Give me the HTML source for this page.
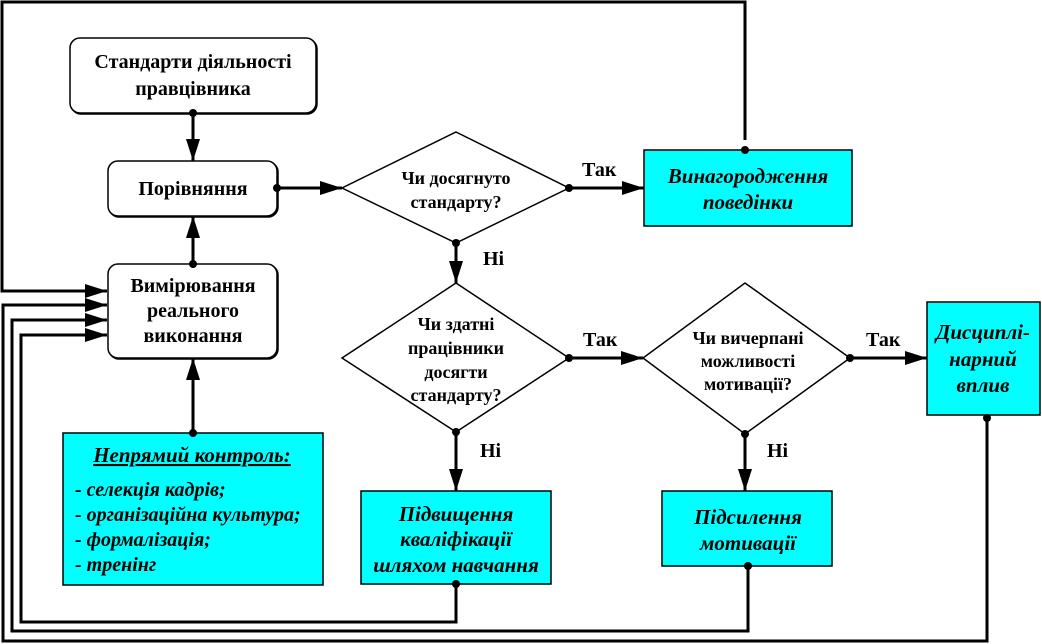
<!DOCTYPE html>
<html><head><meta charset="utf-8"><style>
html,body{margin:0;padding:0;background:#fff;}
svg{display:block;}
</style></head><body>
<svg width="1042" height="644" viewBox="0 0 1042 644" xmlns="http://www.w3.org/2000/svg" style="font-family:'Liberation Serif',serif" font-weight="bold">
<defs>
<marker id="b" markerWidth="22" markerHeight="14" refX="22" refY="7" orient="auto" markerUnits="userSpaceOnUse" viewBox="0 0 22 14"><path d="M0,0 L22,7 L0,14 z" fill="#000"/></marker>
</defs>
<g fill="none" stroke="#000" stroke-width="3">
<polyline points="745,140 745,2 2,2 2,291 107,291" marker-end="url(#b)"/>
<polyline points="987,418 987,641 3,641 3,305 107,305" marker-end="url(#b)"/>
<polyline points="748,566 748,631 12,631 12,320 107,320" marker-end="url(#b)"/>
<polyline points="456,584 456,622 21,622 21,335 107,335" marker-end="url(#b)"/>
<line x1="193" y1="113" x2="193" y2="161" marker-end="url(#b)"/>
<line x1="193" y1="264" x2="193" y2="216" marker-end="url(#b)"/>
<line x1="193" y1="433" x2="193" y2="358" marker-end="url(#b)"/>
<line x1="277" y1="188" x2="342" y2="188" marker-end="url(#b)"/>
<line x1="569" y1="188" x2="644" y2="188" marker-end="url(#b)"/>
<line x1="456" y1="243" x2="456" y2="283" marker-end="url(#b)"/>
<line x1="569" y1="358" x2="643" y2="358" marker-end="url(#b)"/>
<line x1="850" y1="358" x2="927" y2="358" marker-end="url(#b)"/>
<line x1="456" y1="432" x2="456" y2="491" marker-end="url(#b)"/>
<line x1="745" y1="434" x2="745" y2="491" marker-end="url(#b)"/>
</g>
<g stroke="#000" stroke-width="1.5">
<rect x="71" y="39" width="246" height="75" rx="10" fill="#444"/>
<rect x="70" y="38" width="246" height="75" rx="10" fill="#fff"/>
<rect x="109" y="162" width="169" height="55" rx="10" fill="#444"/>
<rect x="108" y="161" width="169" height="55" rx="10" fill="#fff"/>
<rect x="109" y="265" width="169" height="94" rx="10" fill="#444"/>
<rect x="108" y="264" width="169" height="94" rx="10" fill="#fff"/>
<rect x="63" y="433" width="260" height="152" fill="#00ffff"/>
<rect x="644" y="150" width="208" height="76" fill="#00ffff"/>
<rect x="927" y="302" width="113" height="113" fill="#00ffff"/>
<rect x="361" y="491" width="190" height="93" fill="#00ffff"/>
<rect x="662" y="491" width="170" height="75" fill="#00ffff"/>
<polygon points="456,132 569,188 456,243 342,188" fill="#fff"/>
<polygon points="456,283 569,358 456,432 342,358" fill="#fff"/>
<polygon points="745,283 850,358 745,434 643,358" fill="#fff"/>
</g>
<g fill="#000">
<circle cx="193" cy="113" r="4"/><circle cx="193" cy="264" r="4"/><circle cx="193" cy="433" r="4"/>
<circle cx="277" cy="188" r="4"/><circle cx="569" cy="188" r="4"/><circle cx="456" cy="243" r="4"/>
<circle cx="569" cy="358" r="4"/><circle cx="850" cy="358" r="4"/><circle cx="456" cy="432" r="4"/>
<circle cx="745" cy="434" r="4"/><circle cx="745" cy="150" r="4"/><circle cx="987" cy="418" r="4"/>
<circle cx="456" cy="584" r="4"/><circle cx="748" cy="566" r="4"/>
</g>
<g text-anchor="middle" font-size="20">
<text x="193" y="68">Стандарти діяльності</text>
<text x="193" y="95">правцівника</text>
<text x="193" y="195">Порівняння</text>
<text x="193" y="292">Вимірювання</text>
<text x="193" y="317">реального</text>
<text x="193" y="342">виконання</text>
</g>
<g text-anchor="middle" font-size="18">
<text x="456" y="184">Чи досягнуто</text>
<text x="456" y="208">стандарту?</text>
<text x="456" y="330">Чи здатні</text>
<text x="456" y="354">працівники</text>
<text x="456" y="378">досягти</text>
<text x="456" y="401">стандарту?</text>
<text x="748" y="344">Чи вичерпані</text>
<text x="748" y="367">можливості</text>
<text x="748" y="390">мотивації?</text>
</g>
<g font-size="20">
<text x="582" y="176">Так</text>
<text x="583" y="346">Так</text>
<text x="866" y="346">Так</text>
<text x="483" y="265">Ні</text>
<text x="480" y="457">Ні</text>
<text x="767" y="457">Ні</text>
</g>
<g text-anchor="middle" font-size="21" font-style="italic">
<text x="748" y="183">Винагородження</text>
<text x="748" y="209">поведінки</text>
<text x="983" y="339">Дисциплі-</text>
<text x="983" y="366">нарний</text>
<text x="983" y="392">вплив</text>
<text x="456" y="521">Підвищення</text>
<text x="456" y="546">кваліфікації</text>
<text x="456" y="572">шляхом навчання</text>
<text x="748" y="524">Підсилення</text>
<text x="748" y="550">мотивації</text>
<text x="192" y="462" text-decoration="underline">Непрямий контроль:</text>
</g>
<g font-size="20" font-style="italic">
<text x="75" y="496">- селекція кадрів;</text>
<text x="75" y="521">- організаційна культура;</text>
<text x="75" y="546">- формалізація;</text>
<text x="75" y="571">- тренінг</text>
</g>
</svg>
</body></html>
